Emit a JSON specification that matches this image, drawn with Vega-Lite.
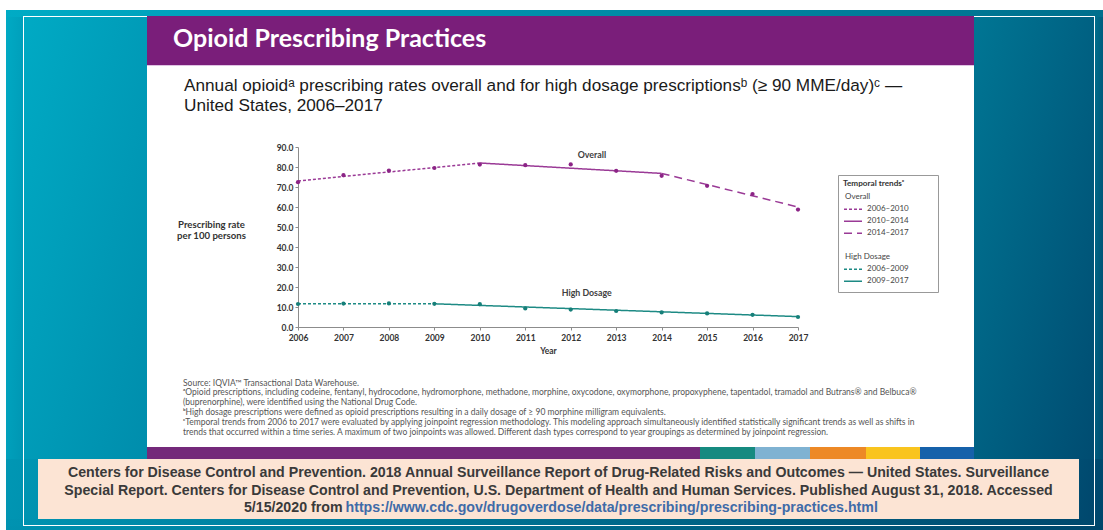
{
  "$schema": "https://vega.github.io/schema/vega-lite/v6.json",
  "background": "white",
  "padding": {"left": 6, "top": 10, "right": 0, "bottom": 0},
  "config": {"view": {"stroke": null}, "concat": {"spacing": 0}, "font": "Lato"},
  "datasets": {
    "points": [
      {"series": "Overall", "year": 2006, "rate": 72.4},
      {"series": "Overall", "year": 2007, "rate": 75.9},
      {"series": "Overall", "year": 2008, "rate": 78.2},
      {"series": "Overall", "year": 2009, "rate": 79.5},
      {"series": "Overall", "year": 2010, "rate": 81.2},
      {"series": "Overall", "year": 2011, "rate": 80.9},
      {"series": "Overall", "year": 2012, "rate": 81.3},
      {"series": "Overall", "year": 2013, "rate": 78.1},
      {"series": "Overall", "year": 2014, "rate": 75.6},
      {"series": "Overall", "year": 2015, "rate": 70.6},
      {"series": "Overall", "year": 2016, "rate": 66.5},
      {"series": "Overall", "year": 2017, "rate": 58.7},
      {"series": "High Dosage", "year": 2006, "rate": 11.5},
      {"series": "High Dosage", "year": 2007, "rate": 11.7},
      {"series": "High Dosage", "year": 2008, "rate": 11.8},
      {"series": "High Dosage", "year": 2009, "rate": 11.6},
      {"series": "High Dosage", "year": 2010, "rate": 11.4},
      {"series": "High Dosage", "year": 2011, "rate": 9.3},
      {"series": "High Dosage", "year": 2012, "rate": 8.7},
      {"series": "High Dosage", "year": 2013, "rate": 8.0},
      {"series": "High Dosage", "year": 2014, "rate": 7.3},
      {"series": "High Dosage", "year": 2015, "rate": 6.8},
      {"series": "High Dosage", "year": 2016, "rate": 6.1},
      {"series": "High Dosage", "year": 2017, "rate": 5.0}
    ],
    "trends": [
      {"trend": "2006–2010", "year": 2006, "rate": 73.0},
      {"trend": "2006–2010", "year": 2010, "rate": 82.0},
      {"trend": "2010–2014", "year": 2010, "rate": 82.0},
      {"trend": "2010–2014", "year": 2014, "rate": 76.8},
      {"trend": "2014–2017", "year": 2014, "rate": 76.8},
      {"trend": "2014–2017", "year": 2017, "rate": 60.0},
      {"trend": "2006–2009", "year": 2006, "rate": 11.6},
      {"trend": "2006–2009", "year": 2009, "rate": 11.6},
      {"trend": "2009–2017", "year": 2009, "rate": 11.6},
      {"trend": "2009–2017", "year": 2017, "rate": 5.2}
    ],
    "caption": [
      {"line": "1", "role": "line", "text": "Centers for Disease Control and Prevention. 2018 Annual Surveillance Report of Drug-Related Risks and Outcomes — United States. Surveillance"},
      {"line": "2", "role": "line", "text": "Special Report. Centers for Disease Control and Prevention, U.S. Department of Health and Human Services. Published August 31, 2018. Accessed"},
      {"line": "3", "role": "lead", "text": "5/15/2020 from"},
      {"line": "3", "role": "link", "text": "https://www.cdc.gov/drugoverdose/data/prescribing/prescribing-practices.html"}
    ]
  },
  "spacing": 0,
  "vconcat": [
    {
      "width": 1097, "height": 6, "data": {"values": []}, "mark": "rect",
      "view": {"fill": {"gradient": "linear", "x1": 0, "y1": 0, "x2": 1, "y2": 0, "stops": [{"offset": 0, "color": "#00abc5"}, {"offset": 1, "color": "#006f8d"}]}}
    },
    {
      "width": 1097, "height": 1, "data": {"values": []}, "mark": "rect",
      "view": {"fill": {"gradient": "linear", "x1": 0, "y1": 0, "x2": 1, "y2": 0, "stops": [
        {"offset": 0, "color": "#00abc5"}, {"offset": 0.015497, "color": "#00aac4"},
        {"offset": 0.015497, "color": "#ffffff"}, {"offset": 0.128532, "color": "#ffffff"},
        {"offset": 0.128532, "color": "#7a1e7a"}, {"offset": 0.882407, "color": "#7a1e7a"},
        {"offset": 0.882407, "color": "#ffffff"}, {"offset": 0.992707, "color": "#ffffff"},
        {"offset": 0.992707, "color": "#006f8e"}, {"offset": 1, "color": "#006f8d"}]}}
    },
    {
      "spacing": 0,
      "hconcat": [
        {"width": 17, "height": 442, "data": {"values": []}, "mark": "rect",
         "view": {"fill": {"gradient": "linear", "x1": 0, "y1": 0, "x2": 1, "y2": 1, "stops": [{"offset": 0, "color": "#00aac4"}, {"offset": 1, "color": "#0096b3"}]}}},
        {"width": 1, "height": 442, "data": {"values": []}, "mark": "rect", "view": {"fill": "#ffffff"}},
        {"width": 123, "height": 442, "data": {"values": []}, "mark": "rect",
         "view": {"fill": {"gradient": "linear", "x1": 0, "y1": 0, "x2": 1, "y2": 1, "stops": [{"offset": 0, "color": "#00aac4"}, {"offset": 1, "color": "#008dac"}]}}},
        {
          "spacing": 0,
          "bounds": "flush",
          "vconcat": [
            {
              "width": 827, "height": 49, "data": {"values": []}, "mark": "rect",
              "view": {"fill": {"gradient": "linear", "x1": 0, "y1": 0, "x2": 0, "y2": 1, "stops": [
                {"offset": 0, "color": "#7a1e7a"}, {"offset": 0.9796, "color": "#7a1e7a"},
                {"offset": 0.9796, "color": "#dfc3e3"}, {"offset": 1, "color": "#dfc3e3"}]}},
              "title": {"text": "Opioid Prescribing Practices", "anchor": "start", "frame": "group", "orient": "top", "offset": -35, "dx": 26,
                        "font": "Lato", "fontWeight": "bold", "fontSize": 25, "color": "#ffffff"}
            },
            {
              "width": 827, "height": 306,
              "view": {"fill": "#ffffff"},
              "title": {
                "text": ["Annual opioidᵃ prescribing rates overall and for high dosage prescriptionsᵇ (≥ 90 MME/day)ᶜ —", "United States, 2006–2017"],
                "anchor": "start", "frame": "group", "orient": "top", "offset": -48, "dx": 37,
                "font": "Liberation Sans", "fontSize": 17.2, "fontWeight": "normal", "color": "#1a1a1a", "lineHeight": 19.5
              },
              "encoding": {
                "x": {
                  "field": "year", "type": "quantitative",
                  "scale": {"domain": [2006, 2017], "range": [151, 651], "nice": false, "zero": false},
                  "axis": {
                    "values": [2006, 2007, 2008, 2009, 2010, 2011, 2012, 2013, 2014, 2015, 2016, 2017],
                    "format": "d", "offset": -45, "grid": false,
                    "domainColor": "#8c8c8c", "tickColor": "#8c8c8c", "tickSize": 3,
                    "labelFont": "Lato", "labelFontSize": 8.5, "labelFontWeight": "bold", "labelColor": "#333333",
                    "labelPadding": 3, "labelFlush": false, "labelOverlap": false,
                    "title": "Year", "titleFont": "Lato", "titleFontSize": 8.5, "titleFontWeight": "bold", "titleColor": "#333333", "titlePadding": 5
                  }
                },
                "y": {
                  "field": "rate", "type": "quantitative",
                  "scale": {"domain": [0, 90], "range": [261, 81], "nice": false},
                  "axis": {
                    "values": [0, 10, 20, 30, 40, 50, 60, 70, 80, 90],
                    "format": ".1f", "offset": -151, "grid": false,
                    "domainColor": "#8c8c8c", "tickColor": "#8c8c8c", "tickSize": 3,
                    "labelFont": "Lato", "labelFontSize": 8.5, "labelFontWeight": "bold", "labelColor": "#333333", "labelPadding": 2,
                    "title": ["Prescribing rate", "per 100 persons"],
                    "titleAngle": 0, "titleAlign": "center", "titleBaseline": "middle", "titleX": -87, "titleY": 158,
                    "titleFont": "Lato", "titleFontSize": 9.6, "titleFontWeight": "bold", "titleColor": "#333333", "titleLineHeight": 11.5
                  }
                }
              },
              "layer": [
                {
                  "data": {"name": "trends"},
                  "mark": {"type": "line", "strokeWidth": 1.5},
                  "encoding": {
                    "color": {
                      "field": "trend", "type": "nominal",
                      "scale": {
                        "domain": ["Overall", "2006–2010", "2010–2014", "2014–2017", "spacer", "High Dosage", "2006–2009", "2009–2017"],
                        "range": ["#9a3a96", "#9a3a96", "#9a3a96", "#9a3a96", "#ffffff", "#1d8a84", "#1d8a84", "#1d8a84"]
                      },
                      "legend": {
                        "title": "Temporal trendsᶜ", "orient": "none", "legendX": 832, "legendY": 165,
                        "padding": 5, "strokeColor": "#999999", "fillColor": "#ffffff",
                        "titleFont": "Lato", "titleFontSize": 8.2, "titleFontWeight": "bold", "titleColor": "#333333", "titlePadding": 4,
                        "labelFont": "Lato", "labelFontSize": 8, "labelColor": "#444444", "labelOffset": 4,
                        "symbolType": "stroke", "symbolSize": 324, "symbolStrokeWidth": 1.5,
                        "clipHeight": 10, "rowPadding": 2,
                        "labelExpr": "datum.value === 'spacer' ? '⠀⠀⠀⠀⠀⠀⠀⠀⠀⠀⠀' : datum.label",
                        "encode": {
                          "symbols": {"update": {"opacity": {"signal": "indexof(['Overall', 'spacer', 'High Dosage'], datum.value) >= 0 ? 0 : 1"}}},
                          "labels": {"update": {"dx": {"signal": "indexof(['Overall', 'High Dosage'], datum.value) >= 0 ? -22 : 0"}}}
                        }
                      }
                    },
                    "strokeDash": {
                      "field": "trend", "type": "nominal",
                      "scale": {
                        "domain": ["Overall", "2006–2010", "2010–2014", "2014–2017", "spacer", "High Dosage", "2006–2009", "2009–2017"],
                        "range": [[1, 0], [3, 2], [1, 0], [8, 5], [1, 0], [1, 0], [3, 2], [1, 0]]
                      },
                      "legend": {
                        "title": "Temporal trendsᶜ", "orient": "none", "legendX": 832, "legendY": 165,
                        "padding": 5, "strokeColor": "#999999", "fillColor": "#ffffff",
                        "titleFont": "Lato", "titleFontSize": 8.2, "titleFontWeight": "bold", "titleColor": "#333333", "titlePadding": 4,
                        "labelFont": "Lato", "labelFontSize": 8, "labelColor": "#444444", "labelOffset": 4,
                        "symbolType": "stroke", "symbolSize": 324, "symbolStrokeWidth": 1.5,
                        "clipHeight": 10, "rowPadding": 2,
                        "labelExpr": "datum.value === 'spacer' ? '⠀⠀⠀⠀⠀⠀⠀⠀⠀⠀⠀' : datum.label",
                        "encode": {
                          "symbols": {"update": {"opacity": {"signal": "indexof(['Overall', 'spacer', 'High Dosage'], datum.value) >= 0 ? 0 : 1"}}},
                          "labels": {"update": {"dx": {"signal": "indexof(['Overall', 'High Dosage'], datum.value) >= 0 ? -22 : 0"}}}
                        }
                      }
                    }
                  }
                },
                {
                  "data": {"name": "points"},
                  "transform": [{"filter": "datum.series === 'Overall'"}],
                  "mark": {"type": "circle", "size": 18, "color": "#8c2486", "opacity": 1}
                },
                {
                  "data": {"name": "points"},
                  "transform": [{"filter": "datum.series === 'High Dosage'"}],
                  "mark": {"type": "circle", "size": 18, "color": "#167f79", "opacity": 1}
                },
                {
                  "data": {"name": "points"},
                  "transform": [{"filter": "datum.series === 'Overall' && datum.year === 2012"}],
                  "mark": {"type": "text", "align": "left", "baseline": "middle", "dx": 7, "dy": -9, "font": "Lato", "fontSize": 8.8, "fontWeight": "bold", "color": "#404040"},
                  "encoding": {"text": {"field": "series"}}
                },
                {
                  "data": {"name": "points"},
                  "transform": [{"filter": "datum.series === 'High Dosage' && datum.year === 2012"}],
                  "mark": {"type": "text", "align": "left", "baseline": "middle", "dx": -9, "dy": -17, "font": "Lato", "fontSize": 8.8, "fontWeight": "bold", "color": "#404040"},
                  "encoding": {"text": {"field": "series"}}
                }
              ]
            },
            {
              "width": 827, "height": 75, "data": {"values": []}, "mark": "rect",
              "view": {"fill": "#ffffff"},
              "title": {
                "text": [
                  "Source: IQVIA™ Transactional Data Warehouse.",
                  "ᵃOpioid prescriptions, including codeine, fentanyl, hydrocodone, hydromorphone, methadone, morphine, oxycodone, oxymorphone, propoxyphene, tapentadol, tramadol and Butrans® and Belbuca®",
                  "(buprenorphine), were identified using the National Drug Code.",
                  "ᵇHigh dosage prescriptions were defined as opioid prescriptions resulting in a daily dosage of ≥ 90 morphine milligram equivalents.",
                  "ᶜTemporal trends from 2006 to 2017 were evaluated by applying joinpoint regression methodology. This modeling approach simultaneously identified statistically significant trends as well as shifts in",
                  "trends that occurred within a time series. A maximum of two joinpoints was allowed. Different dash types correspond to year groupings as determined by joinpoint regression."
                ],
                "anchor": "start", "frame": "group", "orient": "top", "offset": -64, "dx": 36,
                "font": "Lato", "fontSize": 8.5, "fontWeight": "normal", "color": "#555555", "lineHeight": 9.8
              }
            },
            {
              "width": 827, "height": 12, "data": {"values": []}, "mark": "rect",
              "view": {"fill": {"gradient": "linear", "x1": 0, "y1": 0, "x2": 1, "y2": 0, "stops": [
                {"offset": 0, "color": "#74297a"}, {"offset": 0.6687, "color": "#74297a"},
                {"offset": 0.6687, "color": "#168a80"}, {"offset": 0.7352, "color": "#168a80"},
                {"offset": 0.7352, "color": "#7fb2d2"}, {"offset": 0.8017, "color": "#7fb2d2"},
                {"offset": 0.8017, "color": "#ed8926"}, {"offset": 0.8694, "color": "#ed8926"},
                {"offset": 0.8694, "color": "#f9c41e"}, {"offset": 0.9347, "color": "#f9c41e"},
                {"offset": 0.9347, "color": "#1661aa"}, {"offset": 1, "color": "#1661aa"}]}}
            }
          ]
        },
        {"width": 120, "height": 442, "data": {"values": []}, "mark": "rect",
         "view": {"fill": {"gradient": "linear", "x1": 0, "y1": 0, "x2": 1, "y2": 1, "stops": [{"offset": 0, "color": "#007694"}, {"offset": 1, "color": "#004c71"}]}}},
        {"width": 1, "height": 442, "data": {"values": []}, "mark": "rect", "view": {"fill": "#ffffff"}},
        {"width": 8, "height": 442, "data": {"values": []}, "mark": "rect",
         "view": {"fill": {"gradient": "linear", "x1": 0, "y1": 0, "x2": 1, "y2": 1, "stops": [{"offset": 0, "color": "#006f8d"}, {"offset": 1, "color": "#004c70"}]}}}
      ]
    },
    {
      "spacing": 0,
      "bounds": "flush",
      "hconcat": [
        {"width": 17, "height": 60, "data": {"values": []}, "mark": "rect",
         "view": {"fill": {"gradient": "linear", "x1": 0, "y1": 0, "x2": 1, "y2": 1, "stops": [{"offset": 0, "color": "#0097b4"}, {"offset": 1, "color": "#0093b1"}]}}},
        {"width": 1, "height": 60, "data": {"values": []}, "mark": "rect", "view": {"fill": "#ffffff"}},
        {"width": 14, "height": 60, "data": {"values": []}, "mark": "rect",
         "view": {"fill": {"gradient": "linear", "x1": 0, "y1": 0, "x2": 1, "y2": 1, "stops": [{"offset": 0, "color": "#0096b3"}, {"offset": 1, "color": "#0092b0"}]}}},
        {
          "width": 1041, "height": 60,
          "view": {"fill": "#fce4d4"},
          "data": {"name": "caption"},
          "encoding": {
            "y": {"field": "line", "type": "ordinal", "axis": null, "scale": {"type": "point", "padding": 0.72}},
            "text": {"field": "text"}
          },
          "layer": [
            {
              "transform": [{"filter": "datum.role === 'line'"}],
              "mark": {"type": "text", "align": "center", "baseline": "middle", "dy": 1.5, "font": "Liberation Sans", "fontSize": 14.2, "fontWeight": "bold", "color": "#3a3a3a"}
            },
            {
              "transform": [{"filter": "datum.role === 'lead'"}],
              "mark": {"type": "text", "align": "right", "baseline": "middle", "dy": 1.5, "dx": -216, "font": "Liberation Sans", "fontSize": 14.2, "fontWeight": "bold", "color": "#3a3a3a"}
            },
            {
              "transform": [{"filter": "datum.role === 'link'"}],
              "mark": {"type": "text", "align": "left", "baseline": "middle", "dy": 1.5, "dx": -213, "font": "Liberation Sans", "fontSize": 14.2, "fontWeight": "bold", "color": "#3f6ba8"}
            }
          ]
        },
        {"width": 15, "height": 60, "data": {"values": []}, "mark": "rect",
         "view": {"fill": {"gradient": "linear", "x1": 0, "y1": 0, "x2": 1, "y2": 1, "stops": [{"offset": 0, "color": "#004d72"}, {"offset": 1, "color": "#00476d"}]}}},
        {"width": 1, "height": 60, "data": {"values": []}, "mark": "rect", "view": {"fill": "#ffffff"}},
        {"width": 8, "height": 60, "data": {"values": []}, "mark": "rect",
         "view": {"fill": {"gradient": "linear", "x1": 0, "y1": 0, "x2": 1, "y2": 1, "stops": [{"offset": 0, "color": "#004b70"}, {"offset": 1, "color": "#00466c"}]}}}
      ]
    },
    {
      "width": 1097, "height": 6, "data": {"values": []}, "mark": "rect",
      "view": {"fill": {"gradient": "linear", "x1": 0, "y1": 0, "x2": 1, "y2": 0, "stops": [
        {"offset": 0, "color": "#0093b1"}, {"offset": 0.015497, "color": "#0092b0"},
        {"offset": 0.015497, "color": "#ffffff"}, {"offset": 0.016408, "color": "#ffffff"},
        {"offset": 0.016408, "color": "#0092b0"}, {"offset": 0.991796, "color": "#00486d"},
        {"offset": 0.991796, "color": "#ffffff"}, {"offset": 0.992707, "color": "#ffffff"},
        {"offset": 0.992707, "color": "#00486d"}, {"offset": 1, "color": "#00476c"}]}}
    },
    {
      "width": 1097, "height": 1, "data": {"values": []}, "mark": "rect",
      "view": {"fill": {"gradient": "linear", "x1": 0, "y1": 0, "x2": 1, "y2": 0, "stops": [
        {"offset": 0, "color": "#0093b1"}, {"offset": 0.015497, "color": "#0092b0"},
        {"offset": 0.015497, "color": "#ffffff"}, {"offset": 0.992707, "color": "#ffffff"},
        {"offset": 0.992707, "color": "#00486d"}, {"offset": 1, "color": "#00476c"}]}}
    },
    {
      "width": 1097, "height": 4, "data": {"values": []}, "mark": "rect",
      "view": {"fill": {"gradient": "linear", "x1": 0, "y1": 0, "x2": 1, "y2": 0, "stops": [{"offset": 0, "color": "#0092b0"}, {"offset": 1, "color": "#00466b"}]}}
    }
  ]
}
